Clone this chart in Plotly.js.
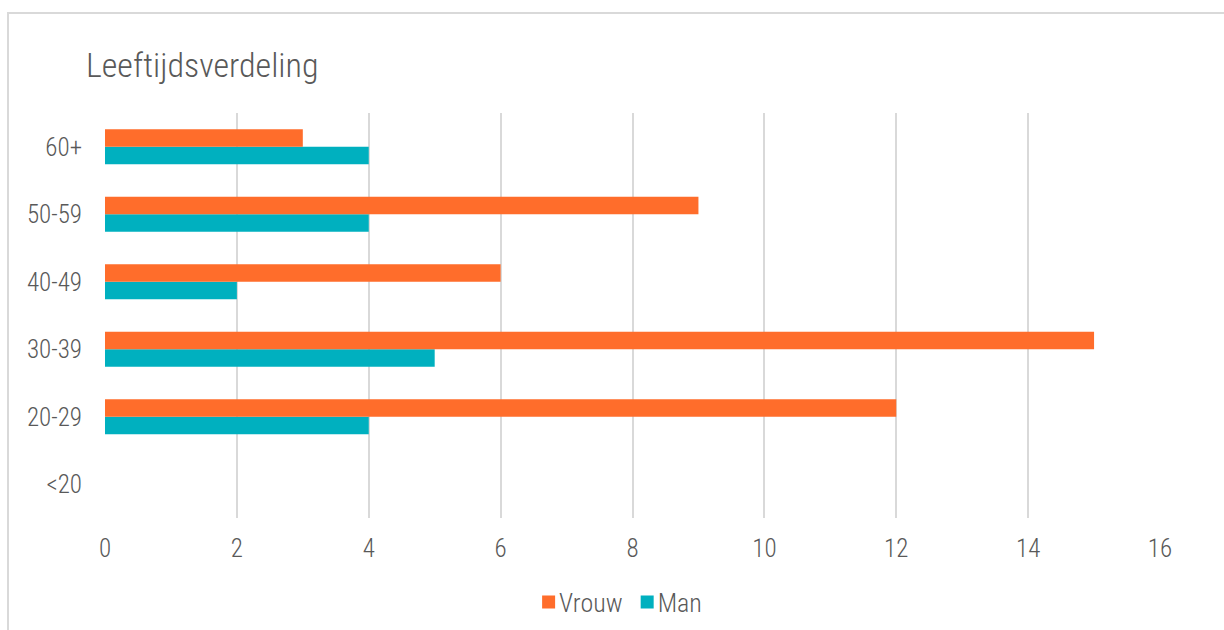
<!DOCTYPE html>
<html>
<head>
<meta charset="utf-8">
<script src="https://cdn.plot.ly/plotly-3.0.1.min.js"></script>
<style>
  html, body { margin: 0; padding: 0; background: #fff; }
  #wrap { position: relative; width: 1224px; height: 630px; overflow: hidden; }
  #border { position: absolute; left: 7px; top: 12px; width: 1240px; height: 640px; border: 2px solid #d9d9d9; box-sizing: border-box; pointer-events: none; }
  #chart { position: absolute; left: 0; top: 0; width: 1224px; height: 630px; }
  #chart text { font-stretch: condensed !important; }
</style>
</head>
<body>
<div id="wrap">
  <div id="chart"></div>
  <div id="border"></div>
</div>
<script>
const categories = ['<20', '20-29', '30-39', '40-49', '50-59', '60+'];
const vrouwValues = [0, 12, 15, 6, 9, 3];
const manValues = [0, 4, 5, 2, 4, 4];
const xTicks = [0, 2, 4, 6, 8, 10, 12, 14, 16];

const FONT = '"Roboto Condensed", "DejaVu Sans Condensed", "Liberation Sans Narrow", Roboto, sans-serif';
const TEXT = '#595959';
const WEIGHT = 300;

const traces = [
  {
    type: 'bar', orientation: 'h', name: 'Man',
    y: categories, x: manValues,
    marker: { color: '#00B0BF' }
  },
  {
    type: 'bar', orientation: 'h', name: 'Vrouw',
    y: categories, x: vrouwValues,
    marker: { color: '#FF6D2B' }
  }
];

const layout = {
  width: 1224, height: 630,
  paper_bgcolor: '#ffffff', plot_bgcolor: '#ffffff',
  margin: { l: 105, r: 64, t: 113, b: 112 },
  barmode: 'group', bargap: 0.48, bargroupgap: 0,
  font: { family: FONT, color: TEXT, size: 22, weight: WEIGHT },
  title: {
    text: 'Leeftijdsverdeling',
    x: 86 / 1224, xanchor: 'left', xref: 'container',
    y: 1 - 65 / 630, yanchor: 'middle', yref: 'container',
    font: { family: FONT, size: 34, color: TEXT, weight: WEIGHT }
  },
  xaxis: {
    range: [0, 16], tickvals: xTicks, ticktext: xTicks.map(String),
    showgrid: true, gridcolor: '#d9d9d9', gridwidth: 2,
    zeroline: false, showline: false, ticks: '',
    tickfont: { family: FONT, size: 25, color: TEXT, weight: WEIGHT },
    ticklabelstandoff: 13
  },
  yaxis: {
    type: 'category', categoryorder: 'array', categoryarray: categories,
    range: [-0.5, 5.5],
    showgrid: false, zeroline: false, showline: false, ticks: '',
    tickfont: { family: FONT, size: 25, color: TEXT, weight: WEIGHT },
    ticklabelstandoff: 22
  },
  showlegend: true,
  legend: {
    orientation: 'h', traceorder: 'reversed',
    x: 0.5, xanchor: 'center', xref: 'container',
    y: 1 - 602 / 630, yanchor: 'middle', yref: 'container',
    font: { family: FONT, size: 26, color: TEXT, weight: WEIGHT },
    itemwidth: 30, itemclick: false
  }
};

Plotly.newPlot('chart', traces, layout, { displayModeBar: false, staticPlot: true }).then(function () {
  // tighten legend: larger square swatches, text close to swatch
  const items = Array.from(document.querySelectorAll('#chart .legend .traces'));
  const half = 6.5, textGap = 4, itemGap = 18, centerX = 622;
  items.forEach(function (g) {
    const p = g.querySelector('.legendpoints path');
    if (p) p.setAttribute('d', 'M' + half + ',' + half + 'H-' + half + 'V-' + half + 'H' + half + 'Z');
    const t = g.querySelector('text.legendtext');
    if (t) t.setAttribute('x', 20 + half + textGap);
  });
  const parseT = function (g) {
    const m = /translate\(([-\d.]+)[ ,]+([-\d.]+)\)/.exec(g.getAttribute('transform') || '');
    return m ? [parseFloat(m[1]), parseFloat(m[2])] : [0, 0];
  };
  items.sort(function (a, b) { return parseT(a)[0] - parseT(b)[0]; });
  const widths = items.map(function (g) {
    const t = g.querySelector('text.legendtext');
    return 2 * half + textGap + t.getComputedTextLength();
  });
  const total = widths.reduce(function (s, w) { return s + w; }, 0) + itemGap * (items.length - 1);
  let left = centerX - total / 2;
  items.forEach(function (g, i) {
    const p = g.querySelector('.legendpoints path');
    const r = p.getBoundingClientRect();
    const tr = parseT(g);
    const dx = left - r.left;
    g.setAttribute('transform', 'translate(' + (tr[0] + dx) + ',' + tr[1] + ')');
    left += widths[i] + itemGap;
  });
});
</script>
</body>
</html>
